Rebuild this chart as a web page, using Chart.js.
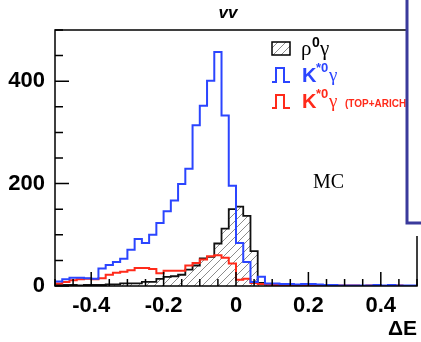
<!DOCTYPE html>
<html>
<head>
<meta charset="utf-8">
<script src="https://cdn.jsdelivr.net/npm/chart.js@4.4.1/dist/chart.umd.min.js"></script>
<style>
html, body { margin: 0; padding: 0; background: #fff; }
#wrap { width: 421px; height: 342px; position: relative; }
</style>
</head>
<body>
<div id="wrap"><canvas id="chart" width="421" height="342"></canvas></div>
<script>
// histogram bins: 50 bins of 0.02 from -0.5 to 0.5 (left edges, plus last right edge)
const binEdges = [-0.5, -0.48, -0.46, -0.44, -0.42, -0.4, -0.38, -0.36, -0.34, -0.32,
	-0.3, -0.28, -0.26, -0.24, -0.22, -0.2, -0.18, -0.16, -0.14, -0.12,
	-0.1, -0.08, -0.06, -0.04, -0.02, 0, 0.02, 0.04, 0.06, 0.08,
	0.1, 0.12, 0.14, 0.16, 0.18, 0.2, 0.22, 0.24, 0.26, 0.28,
	0.3, 0.32, 0.34, 0.36, 0.38, 0.4, 0.42, 0.44, 0.46, 0.48, 0.5];

const rhoGamma = [2, 2, 2, 1, 2, 2, 2, 3, 3, 5,
	5, 5, 8, 8, 14, 18, 19, 22, 32, 40,
	54, 57, 83, 112, 150, 155, 137, 68, 6, 3,
	2, 2, 1, 1, 1, 1, 0, 0, 0, 0,
	0, 0, 0, 0, 0, 0, 0, 0, 0, 0];

const kstarGamma = [9, 13, 16, 16, 15, 14, 34, 41, 47, 53,
	71, 92, 84, 100, 123, 146, 167, 199, 229, 314,
	352, 401, 457, 333, 196, 84, 47, 8, 18, 5,
	5, 4, 4, 3, 4, 4, 3, 2, 2, 1,
	1, 1, 1, 1, 2, 1, 2, 1, 1, 1];

const kstarGammaPid = [5, 8, 11, 13, 14, 13, 15, 22, 26, 28,
	31, 35, 35, 33, 25, 30, 30, 30, 40, 45,
	52, 58, 60, 55, 44, 12, 14, 6, 4, 3,
	2, 2, 2, 2, 1, 1, 1, 1, 1, 1,
	1, 1, 0, 1, 1, 0, 1, 1, 0, 0];

const xTickValues = [-0.4, -0.2, 0, 0.2, 0.4];
const xTickLabels = ['-0.4', '-0.2', '0', '0.2', '0.4'];
const yTickValues = [0, 200, 400];
const yTickLabels = ['0', '200', '400'];

function toSteps(values) {
	let pts = values.map((v, i) => ({x: binEdges[i], y: v}));
	pts.push({x: binEdges[values.length], y: values[values.length - 1]});
	return pts;
}

function makeHatch(ctx) {
	let c = document.createElement('canvas');
	c.width = 8;
	c.height = 8;
	let g = c.getContext('2d');
	g.strokeStyle = '#8c8c8c';
	g.lineWidth = 1;
	g.beginPath();
	g.moveTo(0, 8); g.lineTo(8, 0);
	g.moveTo(-2, 2); g.lineTo(2, -2);
	g.moveTo(6, 10); g.lineTo(10, 6);
	g.stroke();
	return ctx.createPattern(c, 'repeat');
}

const BLUE = '#2b45ff';
const RED = '#ff2a1a';

// frame and inside ticks, ROOT style
const framePlugin = {
	id: 'frame',
	afterDatasetsDraw(chart) {
		const {ctx, chartArea: a, scales: {x, y}} = chart;
		ctx.save();
		ctx.strokeStyle = '#000';
		ctx.lineWidth = 1.5;
		ctx.strokeRect(a.left, a.top, a.right - a.left, a.bottom - a.top);
		ctx.beginPath();
		for (let k = -10; k <= 10; k++) {
			let px = x.getPixelForValue(k * 0.05);
			let len = (k % 4 === 0) ? 14 : 7;
			ctx.moveTo(px, a.bottom);
			ctx.lineTo(px, a.bottom - len);
		}
		for (let v = 0; v <= 500; v += 50) {
			let py = y.getPixelForValue(v);
			let len = v % 200 === 0 ? 14 : 8;
			ctx.moveTo(a.left, py);
			ctx.lineTo(a.left + len, py);
		}
		ctx.stroke();
		ctx.restore();
	},
	afterDraw(chart) {
		const {ctx} = chart;
		ctx.save();
		ctx.textBaseline = 'alphabetic';

		// title fragment
		ctx.fillStyle = '#000';
		ctx.font = 'italic bold 17px "Liberation Sans"';
		ctx.textAlign = 'center';
		ctx.fillText('vv', 228, 18);
		ctx.textAlign = 'left';

		// legend row 1: hatched box, rho0 gamma
		ctx.fillStyle = hatch;
		ctx.fillRect(272, 42, 18, 13);
		ctx.strokeStyle = '#000';
		ctx.lineWidth = 1.5;
		ctx.strokeRect(272, 42, 18, 13);
		ctx.fillStyle = '#000';
		ctx.font = '21px "Liberation Serif"';
		ctx.fillText('ρ', 301, 55);
		ctx.font = 'bold 14px "Liberation Sans"';
		ctx.fillText('0', 312, 47);
		ctx.font = '21px "Liberation Serif"';
		ctx.fillText('γ', 320, 55);

		// legend rows 2 and 3: pulse symbol, K*0 gamma
		const rows = [{color: BLUE, top: 68, bottom: 82, extra: null},
			{color: RED, top: 95, bottom: 108, extra: '(TOP+ARICH)'}];
		for (let r of rows) {
			ctx.strokeStyle = r.color;
			ctx.lineWidth = 2;
			ctx.beginPath();
			ctx.moveTo(272, r.bottom);
			ctx.lineTo(276, r.bottom);
			ctx.lineTo(276, r.top);
			ctx.lineTo(284, r.top);
			ctx.lineTo(284, r.bottom);
			ctx.lineTo(290, r.bottom);
			ctx.stroke();
			ctx.fillStyle = r.color;
			ctx.font = 'bold 20px "Liberation Sans"';
			ctx.fillText('K', 302, r.bottom);
			ctx.font = 'bold 13px "Liberation Sans"';
			ctx.fillText('*0', 316, r.bottom - 10);
			ctx.font = '19px "Liberation Serif"';
			ctx.fillText('γ', 329, r.bottom - 1);
			if (r.extra) {
				ctx.font = 'bold 10px "Liberation Sans"';
				ctx.fillText(r.extra, 345, r.bottom - 1);
			}
		}

		// MC label
		ctx.fillStyle = '#000';
		ctx.font = '20px "Liberation Serif"';
		ctx.fillText('MC', 313, 188);

		// neighbouring panel edge covering the top right corner
		ctx.fillStyle = '#fff';
		ctx.fillRect(406, 0, 15, 236);
		ctx.strokeStyle = '#3a3a9c';
		ctx.lineWidth = 3;
		ctx.beginPath();
		ctx.moveTo(407, 0);
		ctx.lineTo(407, 223);
		ctx.lineTo(421, 223);
		ctx.stroke();
		ctx.restore();
	}
};

const canvas = document.getElementById('chart');
const ctx = canvas.getContext('2d');
const hatch = makeHatch(ctx);

const tickFont = {family: '"Liberation Sans"', size: 22, weight: 'bold'};

new Chart(ctx, {
	type: 'line',
	data: {
		datasets: [
			{
				label: 'rho0 gamma',
				data: toSteps(rhoGamma),
				borderColor: '#111',
				borderWidth: 1.8,
				backgroundColor: hatch,
				fill: 'origin',
				stepped: 'before',
				pointRadius: 0,
				order: 2
			},
			{
				label: 'K*0 gamma (TOP+ARICH)',
				data: toSteps(kstarGammaPid),
				borderColor: RED,
				borderWidth: 2,
				fill: false,
				stepped: 'before',
				pointRadius: 0,
				order: 1
			},
			{
				label: 'K*0 gamma',
				data: toSteps(kstarGamma),
				borderColor: BLUE,
				borderWidth: 2,
				fill: false,
				stepped: 'before',
				pointRadius: 0,
				order: 0
			}
		]
	},
	options: {
		responsive: false,
		animation: false,
		layout: {padding: {top: 30, right: 4, left: 0, bottom: 0}},
		plugins: {
			legend: {display: false},
			tooltip: {enabled: false}
		},
		scales: {
			x: {
				type: 'linear',
				min: -0.5,
				max: 0.5,
				afterFit(s) { s.height = 56; },
				afterBuildTicks(s) { s.ticks = xTickValues.map(v => ({value: v})); },
				grid: {display: false, drawTicks: false},
				border: {display: false},
				ticks: {
					padding: 7,
					color: '#000',
					font: tickFont,
					maxRotation: 0,
					autoSkip: false,
					callback: (v, i) => xTickLabels[i]
				},
				title: {
					display: true,
					text: 'ΔE',
					align: 'end',
					color: '#000',
					font: {family: '"Liberation Sans"', size: 21, weight: 'bold'},
					padding: {top: 0, bottom: 0}
				}
			},
			y: {
				min: 0,
				max: 500,
				afterFit(s) { s.width = 55; },
				afterBuildTicks(s) { s.ticks = yTickValues.map(v => ({value: v})); },
				grid: {display: false, drawTicks: false},
				border: {display: false},
				ticks: {
					padding: 10,
					color: '#000',
					font: tickFont,
					autoSkip: false,
					callback: (v, i) => yTickLabels[i]
				}
			}
		}
	},
	plugins: [framePlugin]
});
</script>
</body>
</html>
